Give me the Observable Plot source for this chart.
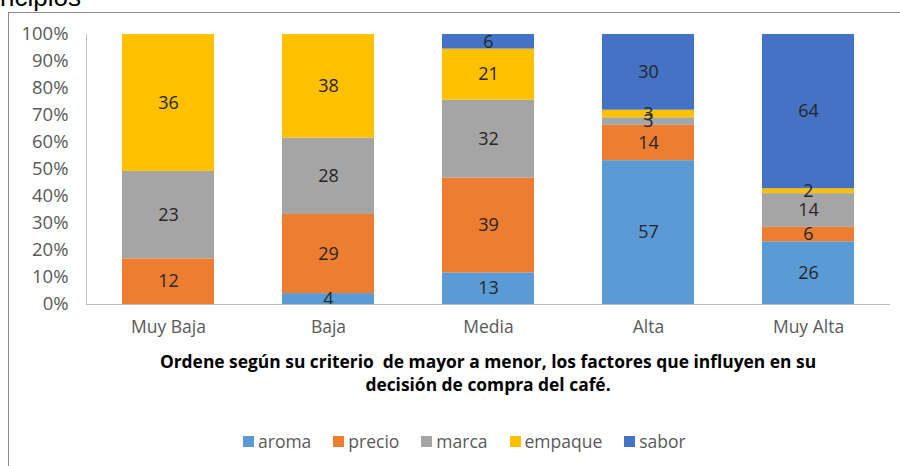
<!DOCTYPE html>
<html>
<head>
<meta charset="utf-8">
<script src="https://cdn.jsdelivr.net/npm/d3@7"></script>
<script src="https://cdn.jsdelivr.net/npm/@observablehq/plot@0.6"></script>
<style>
  html, body { margin: 0; padding: 0; background: #fff; }
  body { width: 900px; height: 466px; overflow: hidden; position: relative; font-family: "Open Sans", sans-serif; }
  #frame { position: absolute; left: 8px; top: 12px; width: 1000px; height: 600px; border-left: 1.5px solid #8c8c8c; border-top: 1.5px solid #8c8c8c; box-sizing: border-box; }
  #toptitle { position: absolute; left: 0px; top: -16px; font-family: "Liberation Sans", Arial, sans-serif; font-size: 26px; line-height: 26px; color: #000; white-space: nowrap; }
  #chart { position: absolute; left: 0; top: 0; }
  #xtitle { position: absolute; left: 86px; width: 804px; top: 350px; text-align: center; font-weight: bold; font-size: 17.4px; line-height: 23px; color: #000; white-space: pre; }
  #legend { position: absolute; left: 243px; top: 429px; display: flex; gap: 22px; font-size: 17.5px; color: #595959; }
  #legend .item { display: flex; align-items: center; }
  #legend .sw { width: 11px; height: 11px; margin-right: 4px; }
</style>
</head>
<body>
<div id="toptitle">ncipios</div>
<div id="frame"></div>
<div id="chart"></div>
<div id="xtitle">Ordene según su criterio  de mayor a menor, los factores que influyen en su
decisión de compra del café.</div>
<div id="legend"></div>
<script>
const categories = ["Muy Baja", "Baja", "Media", "Alta", "Muy Alta"];
const seriesNames = ["aroma", "precio", "marca", "empaque", "sabor"];
const aroma   = [0, 4, 13, 57, 26];
const precio  = [12, 29, 39, 14, 6];
const marca   = [23, 28, 32, 3, 14];
const empaque = [36, 38, 21, 3, 2];
const sabor   = [0, 0, 6, 30, 64];
const colors  = ["#5B9BD5", "#ED7D31", "#A5A5A5", "#FFC000", "#4472C4"];
const yTicks  = [0, 0.1, 0.2, 0.3, 0.4, 0.5, 0.6, 0.7, 0.8, 0.9, 1];

const seriesValues = [aroma, precio, marca, empaque, sabor];
const rows = [];
categories.forEach((c, i) => {
  seriesNames.forEach((s, j) => {
    rows.push({cat: c, series: s, value: seriesValues[j][i]});
  });
});

const chart = Plot.plot({
  width: 900,
  height: 345,
  marginLeft: 86,
  marginRight: 10,
  marginTop: 34,
  marginBottom: 41,
  style: {fontFamily: "'Open Sans', sans-serif", background: "transparent"},
  x: {domain: categories, paddingInner: 0.425, paddingOuter: 0.2125, label: null},
  y: {domain: [0, 1], label: null},
  color: {domain: seriesNames, range: colors},
  marks: [
    Plot.barY(rows, Plot.stackY({x: "cat", y: "value", fill: "series", order: seriesNames, offset: "normalize"})),
    Plot.text(rows, Plot.stackY({x: "cat", y: "value", z: "series", order: seriesNames, offset: "normalize", text: d => d.value > 0 ? String(d.value) : "", fontSize: 18, fill: "#262626"})),
    Plot.ruleY([0], {stroke: "#bfbfbf", strokeWidth: 1}),
    Plot.frame({anchor: "left", stroke: "#bfbfbf", strokeWidth: 1}),
    Plot.axisY({ticks: yTicks, tickFormat: d3.format(".0%"), tickSize: 0, tickPadding: 18, fontSize: 18.5, color: "#595959", label: null}),
    Plot.axisX({tickSize: 0, tickPadding: 16, fontSize: 17.5, color: "#595959", label: null})
  ]
});
document.getElementById("chart").appendChild(chart);

const legend = document.getElementById("legend");
seriesNames.forEach((s, j) => {
  const item = document.createElement("div");
  item.className = "item";
  const sw = document.createElement("span");
  sw.className = "sw";
  sw.style.background = colors[j];
  const t = document.createElement("span");
  t.textContent = s;
  item.appendChild(sw);
  item.appendChild(t);
  legend.appendChild(item);
});
</script>
</body>
</html>
